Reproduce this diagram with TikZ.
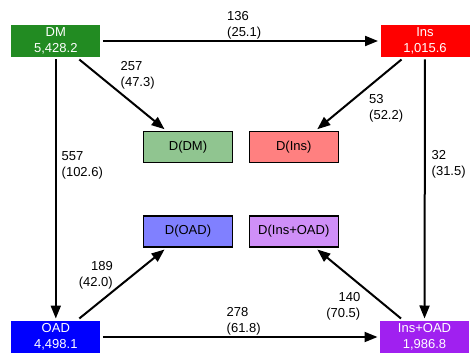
\documentclass[tikz,border=0pt]{standalone}
\usepackage{fontspec}
\setmainfont{Liberation Sans}
\usepackage{tikz}
\usetikzlibrary{arrows.meta,calc}
\usepackage{xcolor}
\definecolor{dmgreen}{RGB}{34,139,34}
\definecolor{insred}{RGB}{255,0,0}
\definecolor{oadblue}{RGB}{0,0,255}
\definecolor{bothpurple}{RGB}{160,32,240}
\tikzset{
  flowbox/.style={rectangle,draw=none,text=white,align=center,minimum width=89pt,minimum height=32pt,inner sep=0pt,outer sep=2.5pt},
  dbox/.style={rectangle,draw=black,line width=1.2pt,align=center,minimum width=89pt,minimum height=31pt,inner sep=0pt,outer sep=2.5pt},
  flowarrow/.style={-{Triangle[length=13pt,width=10pt]},line width=2pt,draw=black},
  flowlabel/.style={inner sep=0pt,text=black}
}

\begin{document}
\begin{tikzpicture}[x=1pt,y=-1pt,font={\fontsize{13}{16}\selectfont}]
  \useasboundingbox (0,0) rectangle (470,358);
  \node[flowbox,fill=dmgreen] (dm) at (55.8,41) {DM\\5,428.2};
  \node[flowbox,fill=insred] (ins) at (425,41) {Ins\\1,015.6};
  \node[flowbox,fill=oadblue] (oad) at (55.8,337) {OAD\\4,498.1};
  \node[flowbox,fill=bothpurple] (insoad) at (424.5,337) {Ins+OAD\\1,986.8};
  \node[dbox,fill=dmgreen!50] (ddm) at (188,147.2) {D(DM)};
  \node[dbox,fill=insred!50] (dins) at (293.8,147.2) {D(Ins)};
  \node[dbox,fill=oadblue!50] (doad) at (188,231.5) {D(OAD)};
  \node[dbox,fill=bothpurple!50] (dinsoad) at (293.8,231.5) {D(Ins+OAD)};
  \draw[flowarrow] (dm) -- (ins);
  \draw[flowarrow] (dm) -- (oad);
  \draw[flowarrow] (ins) -- (insoad);
  \draw[flowarrow] (oad) -- (insoad);
  \draw[flowarrow] ($(dm.south)!0.5!(dm.south east)$) -- ($(ddm.north west)!0.5!(ddm.north)$);
  \draw[flowarrow] ($(ins.south west)!0.5!(ins.south)$) -- ($(dins.north)!0.5!(dins.north east)$);
  \draw[flowarrow] ($(oad.north)!0.5!(oad.north east)$) -- ($(doad.south west)!0.5!(doad.south)$);
  \draw[flowarrow] ($(insoad.north west)!0.5!(insoad.north)$) -- ($(dinsoad.south)!0.5!(dinsoad.south east)$);
  \node[flowlabel,align=left,anchor=north west] (l136) at (227,11) {136\\(25.1)};
  \node[flowlabel,align=left,anchor=north west] (l257) at (120.5,61) {257\\(47.3)};
  \node[flowlabel,align=left,anchor=north west] (l53) at (369,94) {53\\(52.2)};
  \node[flowlabel,align=left,anchor=north west] (l557) at (61.5,151) {557\\(102.6)};
  \node[flowlabel,align=left,anchor=north west] (l32) at (431.5,150) {32\\(31.5)};
  \node[flowlabel,align=right,anchor=north east] (l189) at (113,261) {189\\(42.0)};
  \node[flowlabel,align=right,anchor=north east] (l140) at (360.5,292) {140\\(70.5)};
  \node[flowlabel,align=left,anchor=north west] (l278) at (226.5,307) {278\\(61.8)};
\end{tikzpicture}
\end{document}
